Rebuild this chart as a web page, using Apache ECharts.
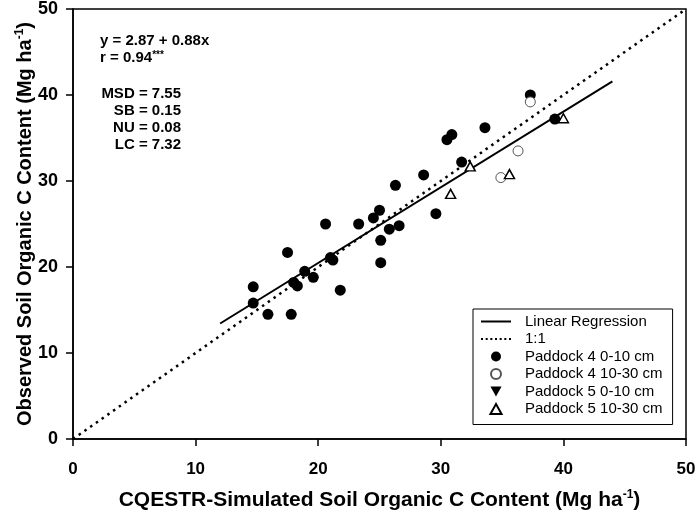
<!DOCTYPE html>
<html>
<head>
<meta charset="utf-8">
<script src="https://cdn.jsdelivr.net/npm/echarts@6/dist/echarts.min.js"></script>
<style>
  html, body { margin: 0; padding: 0; background: #fff; }
  #chart { width: 699px; height: 515px; }
</style>
</head>
<body>
<div id="chart"></div>
<script>
// simulated (x) vs observed (y), Mg ha-1
var paddock4Top = [
  [14.7, 17.7], [14.7, 15.8], [15.9, 14.5], [17.8, 14.5], [17.5, 21.7],
  [18.0, 18.2], [18.3, 17.8], [18.9, 19.5], [19.6, 18.8], [20.6, 25.0],
  [21.0, 21.1], [21.2, 20.8], [21.8, 17.3], [23.3, 25.0], [24.5, 25.7],
  [25.0, 26.6], [25.1, 23.1], [25.1, 20.5], [25.8, 24.4], [26.6, 24.8],
  [26.3, 29.5], [28.6, 30.7], [29.6, 26.2], [30.5, 34.8], [30.9, 35.4],
  [31.7, 32.2], [33.6, 36.2], [37.3, 40.0], [39.3, 37.2]
];
var paddock4Sub = [[37.3, 39.2], [36.3, 33.5], [34.9, 30.4]];
var paddock5Top = [];
var paddock5Sub = [[32.4, 31.7], [30.8, 28.5], [35.6, 30.8], [40.0, 37.3]];

// y = 2.87 + 0.88x, drawn over 12..44
var regression = [[12, 2.87 + 0.88 * 12], [44, 2.87 + 0.88 * 44]];
var oneToOne = [[0, 0], [50, 50]];

var legendNames = ['Linear Regression', '1:1', 'Paddock 4 0-10 cm',
  'Paddock 4 10-30 cm', 'Paddock 5 0-10 cm', 'Paddock 5 10-30 cm'];

var statLines = ['MSD = 7.55', 'SB = 0.15', 'NU = 0.08', 'LC = 7.32'];

var chart = echarts.init(document.getElementById('chart'));
var font = 'Liberation Sans, Arial, sans-serif';

// legend icons
var solidIcon = 'path://M0,0 L30,0 L30,2 L0,2 Z';
var dotIcon = 'path://M0,0h2v2h-2z M4.6,0h2v2h-2z M9.2,0h2v2h-2z M13.8,0h2v2h-2z M18.4,0h2v2h-2z M23,0h2v2h-2z M27.6,0h2v2h-2z';
var downTri = 'path://M0,0 L10,0 L5,9 Z';
var upTri = 'path://M5,0 L10,9 L0,9 Z';
var legendIcons = [solidIcon, dotIcon, 'circle', 'circle', downTri, upTri];

var statText = statLines.map(function (s, i) {
  return {
    type: 'text',
    x: 181,
    y: 86 + i * 17,
    style: { text: s, font: 'bold 15px ' + font, fill: '#000', textAlign: 'right' }
  };
});

var supStyle = { fontFamily: font, fontWeight: 'bold', fontSize: 12, color: '#000', padding: [0, 0, 10, 0] };

var option = {
  backgroundColor: '#fff',
  animation: false,
  grid: {
    left: 73, right: 13, top: 9, bottom: 76,
    containLabel: false, outerBoundsMode: 'none',
    show: true, borderColor: '#000', borderWidth: 1.5
  },
  xAxis: {
    type: 'value', min: 0, max: 50, interval: 10,
    name: 'CQESTR-Simulated Soil Organic C Content (Mg ha{sup|-1})',
    nameLocation: 'middle', nameGap: 50, nameMoveOverlap: false,
    nameTextStyle: {
      fontFamily: font, fontWeight: 'bold', fontSize: 21, color: '#000',
      rich: { sup: supStyle }
    },
    axisLine: { lineStyle: { color: '#000', width: 1.5 } },
    axisTick: { inside: false, length: 7, lineStyle: { color: '#000', width: 1.5 } },
    axisLabel: { fontFamily: font, fontWeight: 'bold', fontSize: 17, color: '#000', margin: 22 },
    splitLine: { show: false }
  },
  yAxis: {
    type: 'value', min: 0, max: 50, interval: 10,
    name: 'Observed Soil Organic C Content (Mg ha{sup|-1})',
    nameLocation: 'middle', nameGap: 37, nameMoveOverlap: false,
    nameTextStyle: {
      fontFamily: font, fontWeight: 'bold', fontSize: 20, color: '#000',
      rich: { sup: supStyle }
    },
    axisLine: { lineStyle: { color: '#000', width: 1.5 } },
    axisTick: { inside: false, length: 7, lineStyle: { color: '#000', width: 1.5 } },
    axisLabel: { fontFamily: font, fontWeight: 'bold', fontSize: 18, color: '#000', margin: 15 },
    splitLine: { show: false }
  },
  legend: {
    data: legendNames.map(function (n, i) { return { name: n, icon: legendIcons[i] }; }),
    orient: 'vertical',
    left: 473, top: 309,
    width: 198,
    padding: [5, 10, 8, 8],
    itemGap: 2.5,
    itemWidth: 30, itemHeight: 10,
    borderColor: '#000', borderWidth: 1, borderRadius: 0,
    backgroundColor: '#fff',
    textStyle: { fontFamily: font, fontSize: 15, color: '#000', padding: [0, 0, 0, 9] },
    selectedMode: false
  },
  graphic: [
    {
      type: 'text', x: 100, y: 33,
      style: { text: 'y = 2.87 + 0.88x', font: 'bold 15px ' + font, fill: '#000' }
    },
    {
      type: 'text', x: 100, y: 50,
      style: {
        text: 'r = 0.94{s|***}',
        font: 'bold 15px ' + font, fill: '#000',
        rich: { s: { font: 'bold 10px ' + font, fill: '#000', padding: [0, 0, 6, 0] } }
      }
    }
  ].concat(statText),
  series: [
    {
      name: 'Linear Regression', type: 'line', data: regression,
      symbol: 'none', z: 3,
      lineStyle: { color: '#000', width: 2 }, itemStyle: { color: '#000' }
    },
    {
      name: '1:1', type: 'line', data: oneToOne,
      symbol: 'none', z: 2,
      lineStyle: { color: '#000', width: 2.5, type: [2.5, 4.5] }, itemStyle: { color: '#000' }
    },
    {
      name: 'Paddock 4 0-10 cm', type: 'scatter', data: paddock4Top,
      symbol: 'circle', symbolSize: 11, z: 4,
      itemStyle: { color: '#000', opacity: 1 }
    },
    {
      name: 'Paddock 4 10-30 cm', type: 'scatter', data: paddock4Sub,
      symbol: 'circle', symbolSize: 10, z: 5,
      itemStyle: { color: '#fff', borderColor: '#555', borderWidth: 1, opacity: 1 }
    },
    {
      name: 'Paddock 5 0-10 cm', type: 'scatter', data: paddock5Top,
      symbol: downTri, symbolSize: [10, 9], z: 5,
      itemStyle: { color: '#000', opacity: 1 }
    },
    {
      name: 'Paddock 5 10-30 cm', type: 'scatter', data: paddock5Sub,
      symbol: upTri, symbolSize: [10, 9], z: 6,
      itemStyle: { color: '#fff', borderColor: '#000', borderWidth: 1.5, opacity: 1 }
    }
  ]
};

chart.setOption(option);
</script>
</body>
</html>
